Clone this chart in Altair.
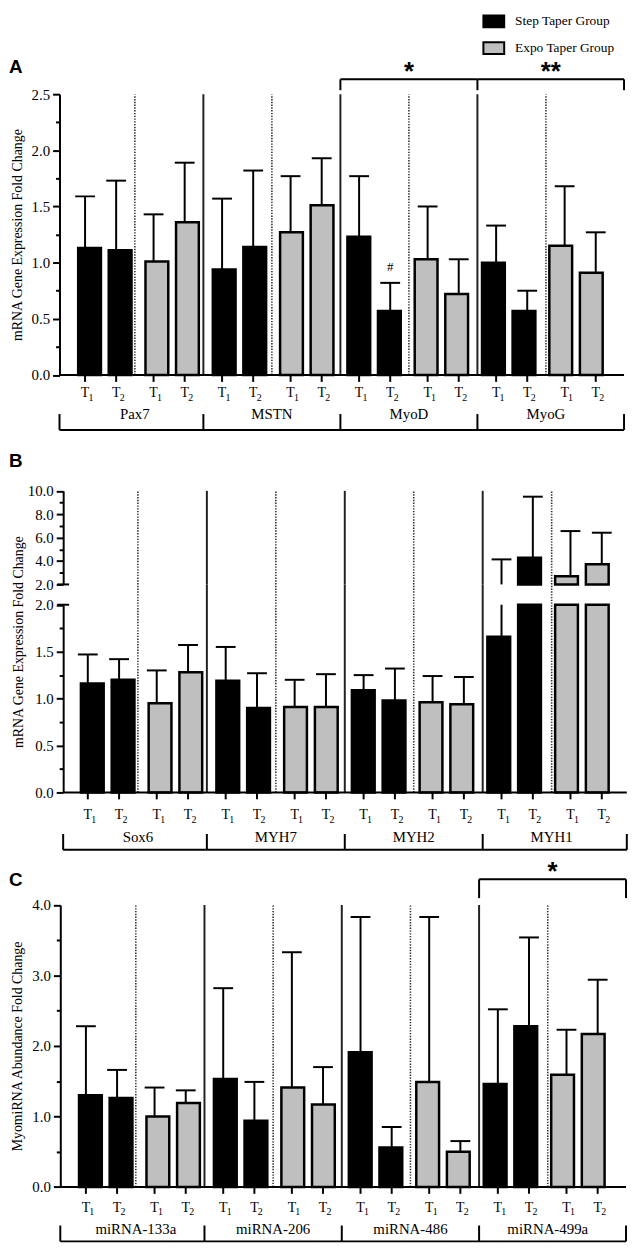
import altair as alt
import pandas as pd

# ---------------- data ----------------
STEP = "Step Taper Group"
EXPO = "Expo Taper Group"
GROUPS = [STEP, STEP, EXPO, EXPO]
TIMES = ["1", "2", "1", "2"]

genes_a = ["Pax7", "MSTN", "MyoD", "MyoG"]
mean_a = [1.13, 1.11, 1.01, 1.36, 0.94, 1.14, 1.27, 1.51, 1.23, 0.57, 1.03, 0.72, 1.00, 0.57, 1.15, 0.91]
sd_a = [0.46, 0.62, 0.42, 0.53, 0.63, 0.68, 0.50, 0.42, 0.54, 0.25, 0.47, 0.31, 0.33, 0.18, 0.53, 0.36]

genes_b = ["Sox6", "MYH7", "MYH2", "MYH1"]
mean_b = [1.16, 1.20, 0.95, 1.28, 1.19, 0.90, 0.91, 0.91, 1.09, 0.98, 0.96, 0.94, 1.66, 4.28, 2.69, 3.72]
sd_b = [0.31, 0.22, 0.35, 0.29, 0.36, 0.37, 0.29, 0.35, 0.16, 0.34, 0.28, 0.29, 2.48, 5.22, 3.87, 2.70]

genes_c = ["miRNA-133a", "miRNA-206", "miRNA-486", "miRNA-499a"]
mean_c = [1.30, 1.26, 1.00, 1.19, 1.53, 0.94, 1.41, 1.17, 1.91, 0.56, 1.49, 0.50, 1.46, 2.28, 1.59, 2.17]
sd_c = [0.98, 0.40, 0.41, 0.18, 1.29, 0.55, 1.92, 0.53, 1.92, 0.29, 2.34, 0.15, 1.06, 1.26, 0.64, 0.77]

sig_a = [("MyoD", "*"), ("MyoG", "**")]
sig_c = [("miRNA-499a", "*")]
hash_a = [("MyoD", STEP, "2", "#")]

TITLE_AB = "mRNA Gene Expression Fold Change"
TITLE_C = "MyomiRNA Abundance Fold Change"

# ---------------- layout / style ----------------
SERIF = "Liberation Serif"
SANS = "Liberation Sans"
GRAY = "#bfbfbf"
BAR_STEP = 0.454

X_A = dict(domain=[-0.6, 7.64], range=[0, 570])
X_B = dict(domain=[-0.584, 7.59], range=[3.7, 572.8])
X_C = dict(domain=[-0.6, 7.64], range=[0.8, 572])

Y_A = dict(domain=[0, 2.5], range=[364.5, 81])
Y_BU = dict(domain=[2, 10], range=[576, 481.5])
Y_BL = dict(domain=[0, 2], range=[786, 596.5])
Y_C = dict(domain=[0, 4], range=[1184.3, 899.7])


def sc(d):
    return alt.Scale(domain=d["domain"], range=d["range"], nice=False, zero=False)


def X(field, xd):
    return alt.X(field, type="quantitative", scale=sc(xd), axis=None)


def Y(field, yd, axis=None):
    return alt.Y(field, type="quantitative", scale=sc(yd), axis=axis)


LEGEND = alt.Legend(
    orient="none", legendX=427, legendY=-4, title=None,
    symbolType="M-1,-0.57H1V0.57H-1Z", symbolSize=441,
    symbolStrokeColor="black", symbolStrokeWidth=2, symbolOpacity=1,
    labelFont=SERIF, labelFontSize=13.5, labelColor="black",
    rowPadding=5, labelOffset=10, padding=0,
)
COLOR = alt.Color("group:N", scale=alt.Scale(domain=[STEP, EXPO], range=["black", GRAY]), legend=LEGEND)


def yaxis(values, every, title=None, title_y=None, offset=0, title_x=-42):
    kw = dict(
        values=values, orient="left", grid=False,
        labelExpr=f"datum.value % {every} == 0 ? format(datum.value, '.1f') : ''",
        tickSize={"condition": {"test": f"datum.value % {every} == 0", "value": 7}, "value": 4},
        domainWidth=2, domainColor="black", tickWidth=2, tickColor="black",
        labelFont=SERIF, labelFontSize=15, labelColor="black", labelPadding=3,
        labelOverlap=False, labelFlush=False, offset=offset,
    )
    if title:
        kw.update(title=title, titleFont=SERIF, titleFontSize=14, titleFontWeight="normal",
                  titleColor="black", titleX=title_x, titleBaseline="middle")
        if title_y is not None:
            kw.update(titleY=title_y)
    else:
        kw.update(title=None)
    return alt.Axis(**kw)


def make_df(genes, means, sds):
    rows = []
    for gi, gene in enumerate(genes):
        for k in range(4):
            i = gi * 4 + k
            pair = gi * 2 + k // 2
            rows.append({"gene": gene, "group": GROUPS[k], "t": "T", "sub": TIMES[k],
                         "pos": pair + (k % 2 - 0.5) * BAR_STEP,
                         "mean": means[i], "top": means[i] + sds[i], "zero": 0.0})
    return pd.DataFrame(rows)


def sep_df(genes, lo, hi):
    rows = []
    n = len(genes)
    for gi in range(n):
        rows.append({"pos": 2 * gi + 0.5, "kind": "dot", "y0": lo, "y1": hi})
        if gi < n - 1:
            rows.append({"pos": 2 * gi + 1.5, "kind": "solid", "y0": lo, "y1": hi})
    return pd.DataFrame(rows)


def separators(genes, xd, yd, lo, hi, y2off=0):
    d = sep_df(genes, lo, hi)
    solid = alt.Chart(d[d.kind == "solid"]).mark_rule(color="#222", strokeWidth=2, y2Offset=y2off).encode(
        x=X("pos", xd), y=Y("y0", yd), y2="y1")
    dot = alt.Chart(d[d.kind == "dot"]).mark_rule(color="#333", strokeWidth=1.6, strokeDash=[1.4, 1.4],
                                                  y2Offset=y2off).encode(
        x=X("pos", xd), y=Y("y0", yd), y2="y1")
    return [solid, dot]


def bars_layers(df, xd, yd, base, axis=None):
    d = df.copy()
    d["base"] = base
    return alt.Chart(d).mark_bar(size=23, stroke="black", strokeWidth=2.5).encode(
        x=X("pos", xd), y=Y("mean", yd, axis), y2="base", color=COLOR)


def err_layers(df, xd, yd, lo_field, hi_field, cap=True):
    out = [alt.Chart(df).mark_rule(color="black", strokeWidth=2).encode(
        x=X("pos", xd), y=Y(lo_field, yd), y2=hi_field)]
    if cap:
        out.append(alt.Chart(df).mark_tick(orient="horizontal", size=20, thickness=2, color="black",
                                           opacity=1).encode(x=X("pos", xd), y=Y(hi_field, yd)))
    return out


def bottom_layers(df, genes, xd, yd, t_off, g_off, line_off):
    out = []
    xmin, xmax = xd["domain"]
    base = pd.DataFrame({"x0": [xmin], "x1": [xmax], "y": [0.0]})
    out.append(alt.Chart(base).mark_rule(color="black", strokeWidth=2).encode(
        x=X("x0", xd), x2="x1", y=Y("y", yd)))
    out.append(alt.Chart(df).mark_tick(orient="vertical", size=7, thickness=2, yOffset=3.5, color="black",
                                       opacity=1).encode(x=X("pos", xd), y=Y("zero", yd)))
    out.append(alt.Chart(df).mark_text(font=SERIF, fontSize=14, align="center", baseline="alphabetic",
                                       dy=t_off, color="black").encode(
        x=X("pos", xd), y=Y("zero", yd), text="t"))
    out.append(alt.Chart(df).mark_text(font=SERIF, fontSize=10, align="left", baseline="alphabetic",
                                       dx=3.5, dy=t_off + 3.5, color="black").encode(
        x=X("pos", xd), y=Y("zero", yd), text="sub"))
    gl = pd.DataFrame({"gene": genes, "pos": [2 * i + 0.5 for i in range(len(genes))], "zero": 0.0})
    out.append(alt.Chart(gl).mark_text(font=SERIF, fontSize=15, align="center", baseline="alphabetic",
                                       dy=g_off, color="black").encode(
        x=X("pos", xd), y=Y("zero", yd), text="gene"))
    out.append(alt.Chart(base).mark_rule(color="black", strokeWidth=2, yOffset=line_off).encode(
        x=X("x0", xd), x2="x1", y=Y("y", yd)))
    bt = pd.DataFrame({"pos": [xmin] + [2 * i + 1.5 for i in range(len(genes) - 1)] + [xmax], "zero": 0.0})
    out.append(alt.Chart(bt).mark_tick(orient="vertical", size=16, thickness=2, yOffset=line_off - 8,
                                       color="black", opacity=1).encode(
        x=X("pos", xd), y=Y("zero", yd)))
    return out


def sig_layers(genes, sigs, xd, yd, line_off, tick_len):
    xmin, xmax = xd["domain"]
    top = yd["domain"][1]
    idx = {g: i for i, g in enumerate(genes)}
    rows, ticks, stars = [], [], []
    for g, s in sigs:
        gi = idx[g]
        x0 = 2 * gi - 0.5 if gi > 0 else xmin
        x1 = 2 * gi + 1.5 if gi < len(genes) - 1 else xmax
        rows.append({"x0": x0, "x1": x1, "y": top})
        ticks += [x0, x1]
        stars.append({"pos": (x0 + x1) / 2, "y": top, "s": s})
    ticks = sorted(set(ticks))
    out = [
        alt.Chart(pd.DataFrame(rows)).mark_rule(color="black", strokeWidth=2, yOffset=line_off).encode(
            x=X("x0", xd), x2="x1", y=Y("y", yd)),
        alt.Chart(pd.DataFrame({"pos": ticks, "y": top})).mark_tick(
            orient="vertical", size=tick_len, thickness=2, yOffset=line_off + tick_len / 2, color="black",
            opacity=1).encode(x=X("pos", xd), y=Y("y", yd)),
        alt.Chart(pd.DataFrame(stars)).mark_text(font=SANS, fontWeight="bold", fontSize=26, align="center",
                                                 baseline="alphabetic", dy=line_off + 1, color="black").encode(
            x=X("pos", xd), y=Y("y", yd), text="s"),
    ]
    return out


def letter(ch, x, y):
    return alt.Chart(pd.DataFrame({"l": [ch]})).mark_text(
        font=SANS, fontWeight="bold", fontSize=19, align="left", baseline="alphabetic", color="black").encode(
        text="l", x=alt.value(x), y=alt.value(y))


layers = []

# ---------------- panel A ----------------
dfa = make_df(genes_a, mean_a, sd_a)
layers += separators(genes_a, X_A, Y_A, 0.0, Y_A["domain"][1])
layers.append(bars_layers(dfa, X_A, Y_A, 0.0,
                          yaxis([i * 0.25 for i in range(11)], 0.5, TITLE_AB)))
layers += err_layers(dfa, X_A, Y_A, "mean", "top")
layers += bottom_layers(dfa, genes_a, X_A, Y_A, 22.5, 44.5, 55.5)
layers += sig_layers(genes_a, sig_a, X_A, Y_A, -15, 11)
hk = [(g, grp, s) for g, grp, s, _ in hash_a]
dh = dfa[[(r.gene, r.group, r["sub"]) in hk for _, r in dfa.iterrows()]].copy()
dh["mark"] = [h[3] for h in hash_a]
layers.append(alt.Chart(dh).mark_text(font=SERIF, fontSize=13, align="center", baseline="alphabetic",
                                      dy=-12, color="black").encode(
    x=X("pos", X_A), y=Y("top", Y_A), text="mark"))
layers.append(letter("A", -51, 60))

# ---------------- panel B (broken axis) ----------------
dfb = make_df(genes_b, mean_b, sd_b)
BRK = Y_BL["domain"][1]
gap_px = Y_BL["range"][1] - Y_BU["range"][0]
dfb["lo_mean"] = dfb["mean"].clip(upper=BRK)
dfb["lo_top"] = dfb["top"].clip(upper=BRK)
dfb["up_mean"] = dfb["mean"].clip(lower=BRK)

# lower segment
layers += separators(genes_b, X_B, Y_BL, 0.0, BRK, y2off=-gap_px)
lo = dfb.copy()
lo["mean"] = lo["lo_mean"]
layers.append(bars_layers(lo, X_B, Y_BL, 0.0,
                          yaxis([i * 0.25 for i in range(9)], 0.5, TITLE_AB,
                                title_y=(Y_BU["range"][1] + Y_BL["range"][0]) / 2, offset=-3.7,
                                title_x=-45.5)))
lo_err = dfb[dfb["mean"] < BRK]
layers += err_layers(lo_err[lo_err["top"] <= BRK], X_B, Y_BL, "mean", "top")
layers += err_layers(lo_err[lo_err["top"] > BRK], X_B, Y_BL, "mean", "lo_top", cap=False)
layers += bottom_layers(dfb, genes_b, X_B, Y_BL, 27, 50, 58)

# upper segment
layers += separators(genes_b, X_B, Y_BU, BRK, Y_BU["domain"][1])
up = dfb[dfb["mean"] > BRK]
layers.append(bars_layers(up, X_B, Y_BU, BRK,
                          yaxis(list(range(2, 11)), 2, offset=-3.7)))
layers += err_layers(dfb[dfb["top"] > BRK], X_B, Y_BU, "up_mean", "top")
capd = pd.DataFrame({"pos": [X_B["domain"][0]], "y": [BRK]})
for yd in (Y_BU, Y_BL):
    layers.append(alt.Chart(capd).mark_tick(orient="horizontal", size=12, thickness=2, color="black",
                                            opacity=1).encode(x=X("pos", X_B), y=Y("y", yd)))
layers.append(letter("B", -51, 457))

# ---------------- panel C ----------------
dfc = make_df(genes_c, mean_c, sd_c)
layers += separators(genes_c, X_C, Y_C, 0.0, Y_C["domain"][1])
layers.append(bars_layers(dfc, X_C, Y_C, 0.0,
                          yaxis([i * 0.5 for i in range(9)], 1, TITLE_C, offset=-0.8, title_x=-42.8)))
layers += err_layers(dfc, X_C, Y_C, "mean", "top")
layers += bottom_layers(dfc, genes_c, X_C, Y_C, 25, 48, 55)
layers += sig_layers(genes_c, sig_c, X_C, Y_C, -26, 19)
layers.append(letter("C", -51, 880))

chart = alt.layer(*layers).resolve_scale(x="independent", y="independent").properties(
    width=574, height=1241,
    autosize=alt.AutoSizeParams(type="none"),
    padding={"left": 52, "top": 0, "right": 0, "bottom": 0},
).configure_view(stroke=None)

chart.save("out.html", embed_options={"renderer": "svg", "actions": False})
